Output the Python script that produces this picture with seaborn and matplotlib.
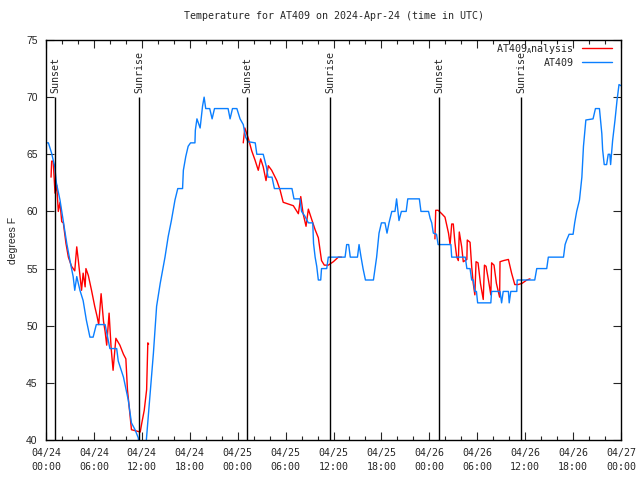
import pandas as pd
import matplotlib
matplotlib.use("Agg")
import matplotlib.pyplot as plt
import matplotlib.dates as mdates
import seaborn as sns

# hours after 2024-04-24 00:00 UTC, temperature in degrees F
obs_hours = [0.0, 0.3, 0.7, 1.1, 1.3, 1.75, 2.2, 2.6, 3.0, 3.4, 3.6, 3.85, 4.25, 4.65, 5.05,
             5.5, 5.9, 6.3, 7.4, 8.0, 8.85, 9.05, 9.7, 10.3, 10.7, 11.15, 11.55, 11.75, 12.45,
             12.6, 13.0, 13.45, 13.85, 14.3, 14.9, 15.3, 15.7, 16.15, 16.5, 17.1, 17.2, 17.5,
             17.8, 18.1, 18.65, 18.7, 18.9, 19.3, 19.6, 19.8, 20.0, 20.5, 20.8, 21.1, 22.8,
             23.05, 23.35, 23.9, 24.3, 24.7, 25.0, 25.3, 26.2, 26.4, 27.2, 27.6, 27.8, 28.3,
             28.6, 30.8, 31.05, 31.8, 32.0, 32.4, 32.85, 33.4, 33.5, 33.7, 33.9, 34.1, 34.4,
             34.5, 35.15, 35.35, 37.45, 37.65, 37.9, 38.1, 39.0, 39.2, 39.45, 39.7, 40.0, 41.0,
             41.2, 41.4, 41.7, 42.0, 42.45, 42.7, 42.95, 43.3, 43.7, 43.9, 44.2, 44.5, 45.1,
             45.3, 46.75, 46.95, 47.9, 48.1, 48.3, 48.5, 48.9, 49.1, 50.7, 50.8, 52.5, 52.7,
             53.1, 53.3, 53.5, 53.7, 53.9, 54.05, 55.7, 55.8, 56.85, 57.05, 57.25, 57.9, 58.0,
             58.2, 58.95, 59.0, 61.2, 61.45, 62.7, 62.9, 64.8, 65.0, 65.2, 65.5, 66.0, 66.2,
             66.45, 66.8, 67.1, 67.3, 67.6, 68.5, 68.8, 69.3, 69.6, 69.7, 69.9, 70.2, 70.4,
             70.6, 70.7, 70.95, 71.25, 71.5, 71.75, 72.0]
obs_temps = [66.0, 66.0, 65.1, 63.9, 62.5, 61.0, 59.0, 57.2, 55.7, 54.3, 53.1, 54.3, 53.1, 52.2, 50.5,
             49.0, 49.0, 50.1, 50.1, 48.0, 48.0, 46.9, 45.5, 43.5, 41.5, 40.9, 40.2, 39.0, 39.0,
             40.3, 43.8, 47.6, 51.7, 53.7, 56.0, 57.8, 59.2, 61.0, 62.0, 62.0, 63.6, 64.8,
             65.7, 66.0, 66.0, 67.1, 68.1, 67.3, 69.2, 70.0, 69.0, 69.0, 68.1, 69.0, 69.0,
             68.1, 69.0, 69.0, 68.1, 67.6, 66.5, 66.1, 66.0, 65.0, 65.0, 63.9, 63.0, 63.0,
             62.0, 62.0, 61.1, 61.1, 60.0, 59.6, 59.0, 59.0, 57.2, 56.0, 55.2, 54.0, 54.0,
             55.0, 55.0, 56.0, 56.0, 57.1, 57.1, 56.0, 56.0, 57.1, 56.0, 55.0, 54.0, 54.0,
             55.0, 56.0, 58.1, 59.0, 59.0, 58.1, 59.0, 60.0, 60.0, 61.1, 59.2, 60.0, 60.0,
             61.1, 61.1, 60.0, 60.0, 59.4, 59.0, 58.1, 58.0, 57.1, 57.1, 56.0, 56.0, 55.0,
             55.0, 54.0, 54.0, 53.0, 53.0, 52.0, 52.0, 53.0, 53.0, 52.0, 53.0, 53.0, 52.0,
             53.0, 53.0, 54.0, 54.0, 55.0, 55.0, 56.0, 56.0, 57.1, 57.5, 58.0, 58.0, 59.0,
             60.0, 61.0, 63.0, 65.7, 68.0, 68.1, 69.0, 69.0, 66.8, 65.4, 64.1, 64.1, 65.0,
             65.0, 64.1, 66.2, 68.0, 69.7, 71.1, 71.0]

ana1_hours = [0.63, 0.71, 0.9, 1.13, 1.34, 1.54, 1.75, 1.97, 2.17, 2.5, 2.8, 3.2, 3.6, 3.85, 4.05,
              4.45, 4.65, 4.9, 5.0, 5.3, 5.7, 6.1, 6.4, 6.6, 6.9, 7.2, 7.4, 7.6, 7.9, 8.15, 8.4,
              8.75, 9.25, 9.7, 10.0, 10.2, 10.5, 10.7, 11.8, 12.0, 12.3, 12.6, 12.75, 12.85]
ana1_temps = [63.0, 64.4, 64.4, 61.6, 62.3, 60.0, 60.8, 59.1, 59.0, 57.2, 56.0, 55.2, 54.8, 56.9, 55.7,
              53.1, 54.6, 53.4, 55.0, 54.4, 53.1, 51.7, 50.8, 50.1, 52.8, 50.4, 49.5, 48.3, 51.1, 48.1, 46.1,
              48.9, 48.3, 47.5, 47.1, 44.4, 42.3, 40.9, 40.7, 41.5, 42.6, 44.4, 48.5, 48.4]
ana2_hours = [24.7, 24.9, 25.33, 25.76, 26.17, 26.58, 26.88, 27.2, 27.55, 27.84, 28.26, 28.9, 29.3,
              29.7, 30.97, 31.6, 31.9, 32.2, 32.56, 32.85, 33.27, 33.7, 34.1, 34.5, 34.85, 35.35,
              35.98, 36.6, 37.0]
ana2_temps = [66.0, 67.3, 66.4, 65.3, 64.5, 63.6, 64.6, 63.9, 62.7, 64.0, 63.6, 62.7, 61.9,
              60.8, 60.5, 59.8, 61.3, 59.8, 58.7, 60.2, 59.3, 58.4, 57.7, 55.7, 55.3, 55.3,
              55.6, 56.0, 56.0]
ana3_hours = [48.7, 48.8, 49.1, 49.55, 49.96, 50.4, 50.6, 50.8, 51.0, 51.2, 51.43, 51.63, 51.75,
              52.05, 52.25, 52.7, 52.75, 53.1, 53.3, 53.5, 53.7, 53.85, 54.1, 54.4, 54.75, 54.9,
              55.1, 55.4, 55.7, 55.8, 56.1, 56.4, 56.8, 56.85, 57.3, 57.9, 58.3, 58.7, 59.1,
              59.6, 60.2, 60.6]
ana3_temps = [57.6, 60.1, 60.1, 59.8, 59.5, 58.1, 57.1, 58.9, 58.9, 57.3, 56.0, 55.7, 58.2,
              56.9, 55.6, 55.8, 57.5, 57.3, 55.2, 53.7, 52.7, 55.6, 55.5, 53.7, 52.3, 55.3,
              55.2, 54.0, 52.7, 55.5, 55.3, 53.7, 52.5, 55.6, 55.7, 55.8, 54.6, 53.6, 53.6,
              53.7, 54.0, 54.1]

sun_hours = [1.13, 11.65, 25.2, 35.55, 49.25, 59.5]
sun_labels = ["Sunset", "Sunrise", "Sunset", "Sunrise", "Sunset", "Sunrise"]

start = pd.Timestamp("2024-04-24 00:00")


def to_time(hours):
    return start + pd.to_timedelta(hours, unit="h")


obs = pd.DataFrame({"time": to_time(obs_hours), "temp": obs_temps})
ana = pd.concat([
    pd.DataFrame({"time": to_time(h), "temp": t, "night": i})
    for i, (h, t) in enumerate([(ana1_hours, ana1_temps), (ana2_hours, ana2_temps),
                                (ana3_hours, ana3_temps)])
], ignore_index=True)

sns.set_style("ticks")
mono = "DejaVu Sans Mono"
sans = "Liberation Sans"

fig = plt.figure(figsize=(6.4, 4.8), dpi=100)
ax = fig.add_axes([46 / 640, 40 / 480, 575 / 640, 400 / 480])

sns.lineplot(data=ana, x="time", y="temp", units="night", estimator=None, sort=False,
             color="#ff0000", lw=1.0, ax=ax)
sns.lineplot(data=obs, x="time", y="temp", estimator=None, sort=False,
             color="#0a7fff", lw=1.0, ax=ax)

# sunrise / sunset markers
sun_times = to_time(sun_hours)
ax.vlines(sun_times, 40, 70, color="black", lw=1.0)
for t, lab in zip(sun_times, sun_labels):
    ax.text(t, 70.4, lab, rotation=90, ha="center", va="bottom",
            family=mono, fontsize=7.2)

ax.set_xlim(start, start + pd.Timedelta(hours=72))
ax.set_ylim(40, 75)
ax.set_yticks(range(40, 76, 5))
ax.xaxis.set_major_locator(mdates.HourLocator(byhour=range(0, 24, 6)))
ax.xaxis.set_minor_locator(mdates.HourLocator(byhour=range(0, 24, 2)))
ax.xaxis.set_major_formatter(mdates.DateFormatter("%m/%d\n%H:%M"))
ax.tick_params(axis="both", which="major", direction="in", length=6, width=0.8,
               top=True, right=True)
ax.tick_params(axis="x", which="minor", direction="in", length=3, width=0.8, top=True)
ax.tick_params(axis="x", pad=6)
ax.tick_params(axis="y", pad=6)
for lab in ax.get_xticklabels():
    lab.set_family(mono)
    lab.set_fontsize(7.2)
    lab.set_linespacing(1.5)
for lab in ax.get_yticklabels():
    lab.set_family(sans)
    lab.set_fontsize(7.5)
for s in ax.spines.values():
    s.set_linewidth(1.0)
    s.set_color("black")

ax.set_xlabel("")
ax.set_ylabel("degrees F", family=sans, fontsize=7.5, labelpad=6)
ax.set_title("Temperature for AT409 on 2024-Apr-24 (time in UTC)",
             family=mono, fontsize=7.2, pad=15)

handles = [plt.Line2D([], [], color="#ff0000", lw=1.0),
           plt.Line2D([], [], color="#0a7fff", lw=1.0)]
ax.legend(handles, ["AT409$_\\mathregular{A}$nalysis", "AT409"], loc="upper right",
          frameon=False, markerfirst=False, prop={"family": mono, "size": 7.2},
          handlelength=3.0, handletextpad=0.8, labelspacing=0.2,
          borderaxespad=0.2, bbox_to_anchor=(0.995, 1.01))

fig.savefig("out.png", dpi=100)
